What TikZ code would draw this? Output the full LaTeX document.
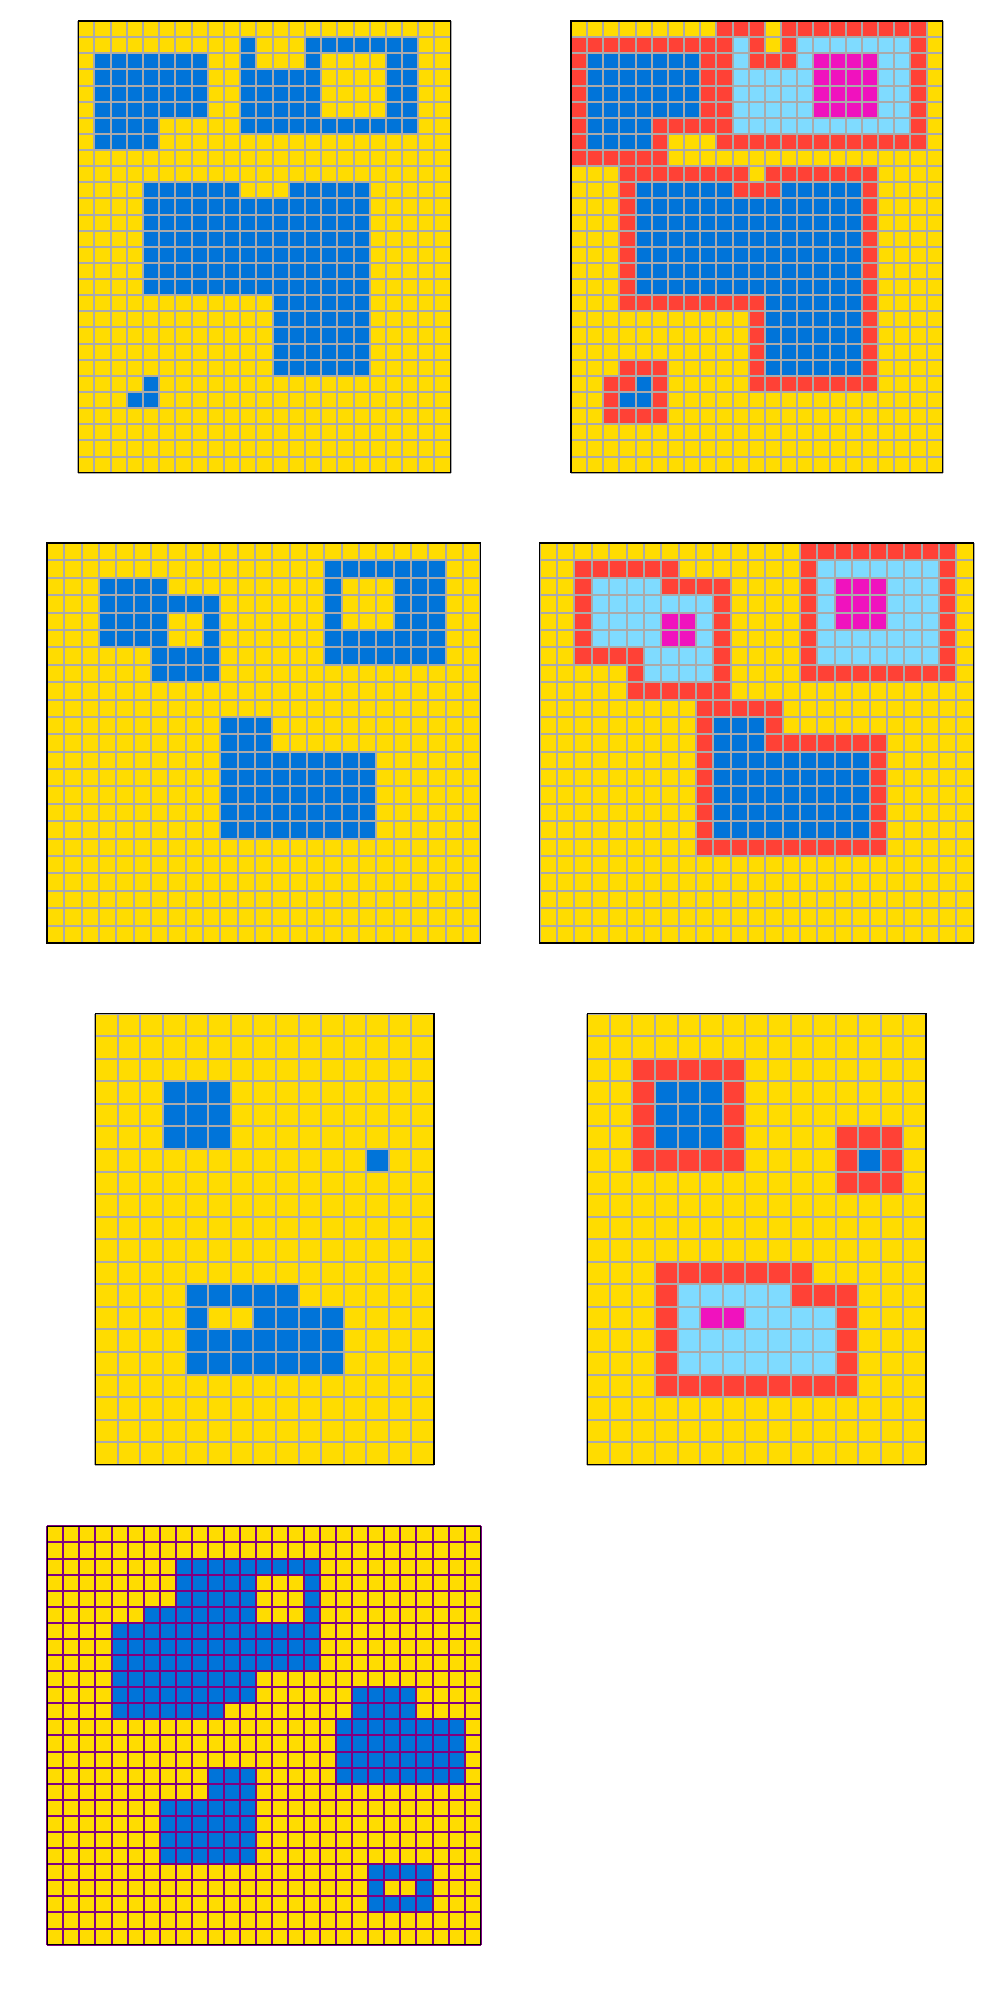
\documentclass[tikz,border=0pt]{standalone}
\definecolor{colY}{HTML}{FFDC00}
\definecolor{colB}{HTML}{0074D9}
\definecolor{colR}{HTML}{FF4136}
\definecolor{colA}{HTML}{7FDBFF}
\definecolor{colM}{HTML}{F012BE}
\definecolor{colG}{HTML}{AAAAAA}
\definecolor{colP}{HTML}{800080}
\tikzset{
  graylines/.style={draw=colG, line width=2pt},
  purplelines/.style={draw=colP, line width=2pt},
  frame/.style={draw=black, line width=1.2pt},
}
\newcommand\paintcells[2]{\foreach \ra/\rb/\cla/\clb in {#2}{\fill[#1] (\cla,\ra) rectangle ({\clb+1},{\rb+1});}}
\newcommand\lattice[3]{%
  \foreach \i in {0,...,#2}{\draw[#1] (\i,0) -- (\i,#3);}
  \foreach \j in {0,...,#3}{\draw[#1] (0,\j) -- (#2,\j);}
  \draw[frame] (0,0) rectangle (#2,#3);}
\begin{document}
\begin{tikzpicture}
\fill[white] (0,0) rectangle (1000pt,-2000pt);
\useasboundingbox (0,0) rectangle (1000pt,-2000pt);

% Grid 1
\begin{scope}[shift={(78.3pt,-21pt)},x=16.19pt,y=-16.13pt]
\fill[colY] (0,0) rectangle (23,28);
\paintcells{colB}{1/6/10/10, 1/1/14/20, 2/2/14/14, 2/6/19/20, 3/5/11/14, 6/6/11/18, 2/5/1/7, 6/7/1/4, 10/10/4/9, 10/10/13/17, 11/16/4/17, 17/21/12/17, 22/23/4/4, 23/23/3/3}
\lattice{graylines}{23}{28}
\end{scope}

% Grid 2
\begin{scope}[shift={(571pt,-21pt)},x=16.16pt,y=-16.13pt]
\fill[colY] (0,0) rectangle (23,28);
\paintcells{colR}{0/0/9/11, 0/0/13/21, 1/1/0/9, 1/1/11/11, 1/1/13/13, 1/6/21/21, 2/7/0/0, 2/2/11/13, 2/6/8/9, 6/6/5/7, 7/7/5/5, 7/7/9/21, 8/8/0/5, 9/9/3/10, 9/9/12/18, 10/17/3/3, 10/10/10/12, 10/22/18/18, 17/17/4/11, 18/22/11/11, 21/21/3/5, 22/24/2/2, 22/22/3/3, 22/24/5/5, 22/22/12/17, 24/24/3/4}
\paintcells{colB}{2/5/1/7, 6/7/1/4, 10/10/4/9, 10/10/13/17, 11/16/4/17, 17/21/12/17, 22/22/4/4, 23/23/3/4}
\paintcells{colA}{1/6/10/10, 1/1/14/20, 2/6/14/14, 2/6/19/20, 3/5/11/13, 6/6/11/18}
\paintcells{colM}{2/5/15/18}
\lattice{graylines}{23}{28}
\end{scope}

% Grid 3
\begin{scope}[shift={(47pt,-543pt)},x=17.33pt,y=-17.39pt]
\fill[colY] (0,0) rectangle (25,23);
\paintcells{colB}{1/1/16/22, 2/6/16/16, 2/6/20/22, 5/6/17/19, 2/5/3/6, 3/3/7/9, 4/7/9/9, 6/7/6/8, 10/11/10/12, 12/16/10/18}
\lattice{graylines}{25}{23}
\end{scope}

% Grid 4
\begin{scope}[shift={(539.7pt,-543pt)},x=17.36pt,y=-17.39pt]
\fill[colY] (0,0) rectangle (25,23);
\paintcells{colR}{0/7/15/15, 0/0/16/23, 1/7/23/23, 7/7/16/22, 1/1/2/7, 2/6/2/2, 2/2/7/10, 3/8/10/10, 6/6/3/5, 7/8/5/5, 8/8/6/9, 9/17/9/9, 9/9/10/13, 10/11/13/13, 11/11/14/19, 12/17/19/19, 17/17/10/18}
\paintcells{colA}{1/6/16/22, 2/5/3/6, 3/3/7/9, 4/7/9/9, 6/7/6/8}
\paintcells{colM}{2/4/17/19, 4/5/7/8}
\paintcells{colB}{10/11/10/12, 12/16/10/18}
\lattice{graylines}{25}{23}
\end{scope}

% Grid 5
\begin{scope}[shift={(95.3pt,-1013.7pt)},x=22.58pt,y=-22.55pt]
\fill[colY] (0,0) rectangle (15,20);
\paintcells{colB}{3/5/3/5, 6/6/12/12, 12/12/4/8, 13/15/4/4, 13/15/7/10, 14/15/5/6}
\lattice{graylines}{15}{20}
\end{scope}

% Grid 6
\begin{scope}[shift={(587.3pt,-1013.7pt)},x=22.58pt,y=-22.55pt]
\fill[colY] (0,0) rectangle (15,20);
\paintcells{colR}{2/6/2/6, 5/7/11/13, 11/11/3/9, 12/16/3/3, 12/12/9/11, 13/16/11/11, 16/16/4/10}
\paintcells{colB}{3/5/3/5, 6/6/12/12}
\paintcells{colA}{12/12/4/8, 13/15/4/10}
\paintcells{colM}{13/13/5/6}
\lattice{graylines}{15}{20}
\end{scope}

% Grid 7
\begin{scope}[shift={(47.3pt,-1526.3pt)},x=16.05pt,y=-16.09pt]
\fill[colY] (0,0) rectangle (27,26);
\paintcells{colB}{2/2/8/16, 3/5/8/12, 3/5/16/16, 5/5/6/7, 6/8/4/16, 9/10/4/12, 11/11/4/10, 10/11/19/22, 12/15/18/25, 15/16/10/12, 17/20/7/12, 21/21/20/23, 22/22/20/20, 22/22/23/23, 23/23/20/23}
\lattice{purplelines}{27}{26}
\end{scope}
\end{tikzpicture}
\end{document}
